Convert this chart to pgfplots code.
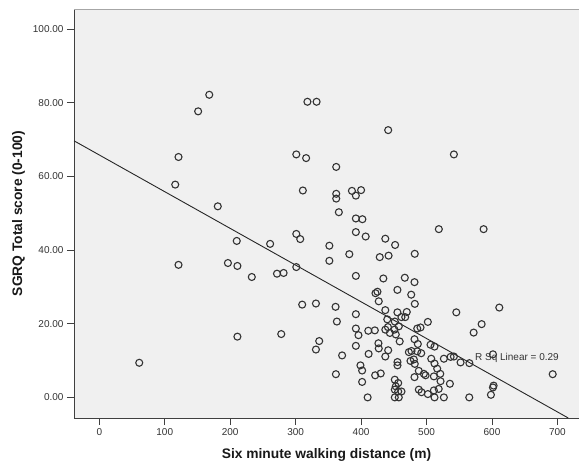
\documentclass[border=0pt]{standalone}
\usepackage{fontspec}
\setmainfont{Liberation Sans}
\usepackage{pgfplots}
\usepackage{pgfplotstable}
\pgfplotsset{compat=1.18}
\definecolor{bg}{HTML}{F0F0F0}
\definecolor{axc}{HTML}{404040}
\definecolor{txc}{HTML}{333333}

\pgfplotstableread{
x y
61 9.4
116 57.8
121 65.3
121 36.0
151 77.7
168 82.2
181 51.9
196.5 36.5
210 42.5
211 35.7
211 16.5
233 32.7
261 41.7
271.5 33.6
281.6 33.8
278 17.2
301 66.0
316 65.0
318 80.3
332 80.3
311 56.2
301 44.4
307 43.0
301 35.4
310 25.2
331 25.5
336 15.3
331 13.0
351.5 41.2
351.5 37.1
362 62.6
362 55.3
362 54.0
366 50.3
361 24.6
363 20.6
361.5 6.3
371 11.4
382 38.9
386 56.1
392 54.8
400 56.3
392 48.6
402 48.4
392 44.9
407 43.7
392 33.0
392 22.6
392 18.7
396 16.9
392 14.0
399 8.7
401.6 7.3
401.6 4.2
410 0.0
411 18.1
411.5 11.8
421 18.2
421.5 6.0
430 6.5
422 28.3
425 28.7
427 26.1
426.5 14.7
427 13.3
428.5 38.1
434 32.3
437 43.1
437 23.7
437 18.4
437 11.1
440 21.2
441 19.1
441.4 72.6
441.4 12.8
442 38.5
444 17.5
451 18.4
452 41.4
451.5 20.6
453 17.1
455.5 29.2
455.5 23.1
457.6 19.3
459 15.2
455.6 9.6
455.6 8.7
451.5 4.8
456.7 3.9
451.5 2.1
456.7 1.6
461.7 1.6
451.5 0.0
457.6 0.0
453 3.0
461.7 21.8
467.4 21.8
469.8 23.2
466.8 32.5
473 12.3
477 12.6
476.6 27.9
475.5 9.9
480.6 10.3
482 9.1
481.6 31.3
482 39.0
482.1 25.4
481.6 15.8
481.6 5.5
485.8 18.7
490.8 19.0
485.8 12.5
486.7 14.5
491.9 12.0
488.2 7.2
488.2 2.1
492.3 1.4
495.9 6.4
498.5 6.0
502 20.5
502 0.9
506.1 14.3
507.2 10.5
511.2 5.7
511.2 1.9
512.2 13.8
512.2 9.2
512.2 0.0
516.3 7.8
518.8 45.7
518.6 2.3
521 6.4
521.4 4.4
526.5 10.5
526.5 0.0
535.7 3.7
536.8 11.0
541.8 11.1
541.8 66.0
545.5 23.1
552 9.5
565.5 9.3
565.3 0.0
572 17.6
584.2 19.9
587.2 45.7
601.5 11.7
602.5 3.2
601.5 2.7
598.4 0.7
611.2 24.4
692.8 6.3
}\pts

\begin{document}
\begin{tikzpicture}
\path[use as bounding box] (-74bp,-49bp) rectangle (505bp,418bp);
\begin{axis}[
  scale only axis, width=505bp, height=409bp,
  xmin=-38.7, xmax=733, ymin=-5.6, ymax=105.5,
  axis background/.style={fill=bg},
  axis x line*=bottom, axis y line*=left,
  axis line style={draw=axc, line width=0.8bp},
  xtick={0,100,...,700}, ytick={0,20,...,100},
  tick align=outside, tick style={draw=axc, line width=0.8bp},
  major tick length=7bp,
  /pgf/number format/assume math mode=true,
  yticklabel style={/pgf/number format/.cd, fixed, fixed zerofill, precision=2},
  ticklabel style={font=\fontsize{10bp}{12bp}\selectfont, text=txc},
  xlabel={Six minute walking distance (m)},
  ylabel={SGRQ Total score (0-100)},
  label style={font=\bfseries\fontsize{13.8bp}{16bp}\selectfont, text=black!90},
  xlabel style={at={(axis description cs:0.5,-0.0905)}, anchor=center},
  ylabel style={at={(axis description cs:-0.1099,0.5)}, anchor=center},
  after end axis/.code={\draw[gray!70, line width=0.8bp] (rel axis cs:0,1) -- (rel axis cs:1,1);},
]
\addplot[only marks, mark=o, mark size=3.5bp, mark options={draw=black!80, line width=1.1bp}] table[x=x, y=y] {\pts};
\addplot[black!85, line width=0.9bp] coordinates {(-38.7,69.7) (716.6,-5.6)};
\node[anchor=west, text=txc, font=\fontsize{10bp}{12bp}\selectfont, inner sep=0pt] at (axis cs:574,10.7) {R Sq Linear = 0.29};
\end{axis}
\end{tikzpicture}
\end{document}
